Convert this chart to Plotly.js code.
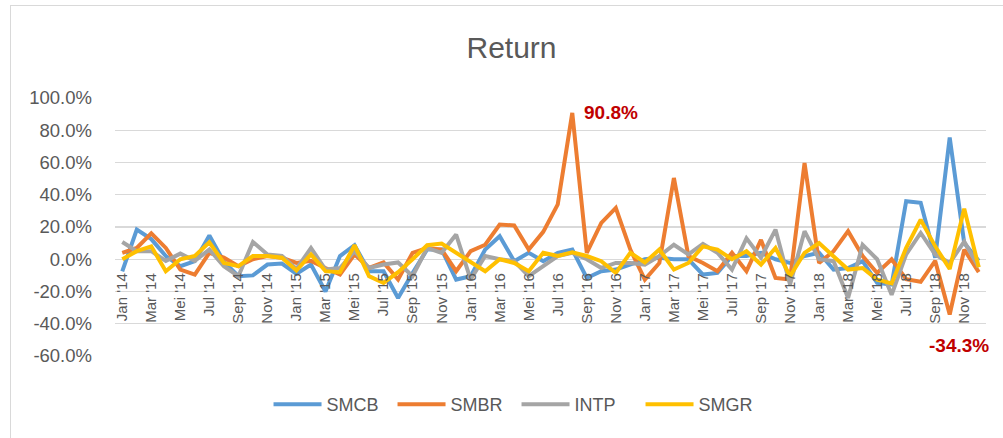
<!DOCTYPE html>
<html>
<head>
<meta charset="utf-8">
<script src="https://cdn.plot.ly/plotly-3.0.1.min.js"></script>
<style>
  html, body { margin:0; padding:0; background:#fff; }
  #wrap { position:relative; width:1003px; height:438px; overflow:hidden; }
  #chart { position:absolute; left:0; top:0; width:1003px; height:438px; }
  #frame { position:absolute; left:10px; top:5px; width:1100px; height:500px;
           border:1.5px solid #d9d9d9; pointer-events:none; box-sizing:border-box; }
</style>
</head>
<body>
<div id="wrap"><div id="chart"></div><div id="frame"></div></div>
<script>
const monthNames = ["Jan","Feb","Mar","Apr","Mei","Jun","Jul","Agu","Sep","Okt","Nov","Des"];
const years = ["14","15","16","17","18"];
const categories = [];
years.forEach(y => monthNames.forEach(m => categories.push(m + " '" + y)));

const SMCB = [-7.5,18.4,12.5,2,-4.3,-1.2,14.7,-1.5,-10.5,-10,-3.3,-2.7,
              -9,-3.3,-20,2,8.7,-7.4,-7.4,-24,-8.5,6,6,-12.6,
              -10.5,6,14.3,-1.2,4,-1.2,4,6,-11.6,-7.4,-6.4,-3.3,
              0,1,0,0,-9.5,-8.5,2,2,4,0,-2.3,2,
              4,-6.4,-5.4,-1.2,-14.7,-15.7,36,35,1,75.5,10,-1];
const SMBR = [4,7,16,7,-6.4,-9.5,4,1,-4.3,0,2,1,
              -2.3,-1,-5.4,-9.5,3,-5.4,-2,-12.6,4,7,6,-7.4,
              5,9,21.5,21,6,17,34,90.8,4,22.5,31.8,6,
              -12.6,-2.3,50.4,2,-2.3,-7.4,4,-7.4,12,-11.6,-12.6,59.7,
              -2.3,5,17.4,2,-8.5,0,-12.4,-14,-1,-34.3,6,-8];
const INTP = [10.7,5,5,-1,3.5,-1,6,-4.3,-10.5,10.7,3,2,
              -6,7,-6.4,-5.4,5,-5.4,-3.3,-2,-10.5,7,4,15.3,
              -12.6,2,0,-1.2,-10.5,-4.3,2,4,0,-5.4,-2.3,-2.3,
              -3.3,2,9,3,9.5,4,-6.4,13,1,18.4,-15.7,17.4,
              0,-1.2,-24,9,0,-22,3,16.3,3,-2.3,11,-5];
const SMGR = [0,5,8,-7.4,0,2,10.5,-2.3,-4.3,2,2,1,
              -7,3,-7.4,-8,8.7,-10.5,-14.7,-8,0,8.7,9.7,4,
              -1.2,-7.4,0,-2.3,-7.4,4,2,4.3,2,-1.2,-8.5,4,
              -2,6,-6.4,-2.3,8,6,0,5,-3.3,7,-10.5,4,
              10,2,-6.4,-5.4,-12.6,-15,7,24.6,8,-6,31.4,-5];

const seriesNames = ["SMCB","SMBR","INTP","SMGR"];
const seriesColors = ["#5B9BD5","#ED7D31","#A5A5A5","#FFC000"];
const seriesData = [SMCB, SMBR, INTP, SMGR];
const yTicks = [-60,-40,-20,0,20,40,60,80,100];
const yTickText = yTicks.map(v => v.toFixed(1) + '%');
const xTickLabels = categories.filter((c,i) => i % 2 === 0);

const traces = seriesData.map((d,k) => ({
  type:'scatter', mode:'lines', name:seriesNames[k],
  x:categories, y:d,
  line:{color:seriesColors[k], width:4, shape:'linear'},
  hoverinfo:'skip'
}));

const maxV = Math.max(...SMBR), minV = Math.min(...SMBR);
const maxI = SMBR.indexOf(maxV), minI = SMBR.indexOf(minV);
const font = "Liberation Sans, Arial, sans-serif";

const layout = {
  width:1003, height:438,
  margin:{l:115, r:17, t:98, b:82, pad:0},
  paper_bgcolor:'rgba(0,0,0,0)', plot_bgcolor:'rgba(0,0,0,0)',
  font:{family:font, color:'#595959'},
  title:{text:'Return', font:{size:30, color:'#595959', family:font},
         xref:'container', x:0.51, xanchor:'center',
         yref:'container', y:1-47/438, yanchor:'middle'},
  xaxis:{type:'category', range:[-0.5, 59.5], tickmode:'array',
         tickvals:xTickLabels, ticktext:xTickLabels, tickangle:-90,
         anchor:'free', position:0.375, showgrid:false, zeroline:false,
         showline:false, ticks:'', ticklabelstandoff:10,
         tickfont:{size:15, color:'#595959', family:font}},
  yaxis:{range:[-60,100], tickmode:'array', tickvals:yTicks, ticktext:yTickText,
         showgrid:true, gridcolor:'#d9d9d9',
         gridwidth:1.3, zeroline:false, showline:false, ticks:'',
         ticklabelstandoff:22, tickfont:{size:18.5, color:'#595959', family:font}},
  legend:{orientation:'h', x:0.461, xanchor:'center', y:-0.188, yanchor:'middle',
          itemwidth:48, entrywidth:61, entrywidthmode:'pixels',
          font:{size:18, color:'#595959', family:font}, bgcolor:'rgba(0,0,0,0)'},
  showlegend:true,
  annotations:[
    {x:categories[maxI], y:maxV, xref:'x', yref:'y', text:'<b>'+maxV.toFixed(1)+'%</b>',
     showarrow:false, xanchor:'left', yanchor:'middle', xshift:10,
     font:{size:19, color:'#C00000', family:font}},
    {x:categories[minI], y:minV, xref:'x', yref:'y', text:'<b>'+minV.toFixed(1)+'%</b>',
     showarrow:false, xanchor:'center', yanchor:'top', xshift:9, yshift:-18,
     font:{size:19, color:'#C00000', family:font}}
  ]
};

Plotly.newPlot('chart', traces, layout, {displayModeBar:false, staticPlot:true});
</script>
</body>
</html>
